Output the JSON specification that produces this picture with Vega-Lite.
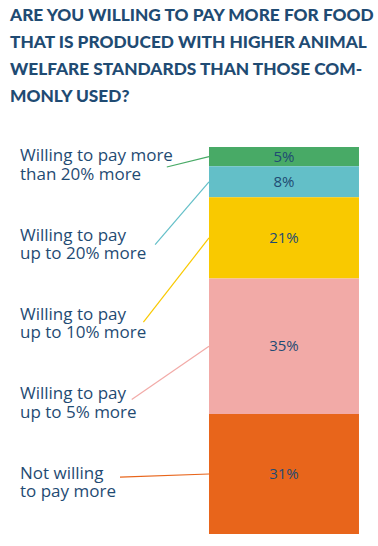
{
  "$schema": "https://vega.github.io/schema/vega-lite/v6.json",
  "width": 378,
  "height": 400,
  "autosize": {"type": "none"},
  "padding": {"top": 140, "left": 0, "right": 0, "bottom": 6},
  "background": "white",
  "config": {"view": {"stroke": null}},
  "title": {
    "text": ["ARE YOU WILLING TO PAY MORE FOR FOOD", "THAT IS PRODUCED WITH HIGHER ANIMAL", "WELFARE STANDARDS THAN THOSE COM-", "MONLY USED?"],
    "anchor": "start",
    "frame": "group",
    "font": "Lato",
    "fontSize": 17.3,
    "fontWeight": 900,
    "lineHeight": 27,
    "color": "#1f4b73",
    "dx": 10,
    "offset": 35
  },
  "data": {
    "values": [
      {"category": "Willing to pay more\nthan 20% more", "pct": 0.05, "order": 1},
      {"category": "Willing to pay\nup to 20% more", "pct": 0.08, "order": 2},
      {"category": "Willing to pay\nup to 10% more", "pct": 0.21, "order": 3},
      {"category": "Willing to pay\nup to 5% more", "pct": 0.35, "order": 4},
      {"category": "Not willing\nto pay more", "pct": 0.31, "order": 5}
    ]
  },
  "transform": [
    {"stack": "pct", "groupby": [], "sort": [{"field": "order", "order": "descending"}], "as": ["y0", "y1"]},
    {"calculate": "(datum.y0 + datum.y1) / 2", "as": "mid"},
    {"calculate": "0.9483 - 0.2003 * (datum.order - 1)", "as": "lineY"},
    {"calculate": "0.976 - 0.205 * (datum.order - 1)", "as": "labelY"},
    {"calculate": "44.13 - 3.095 * (datum.order - 1)", "as": "leaderX"}
  ],
  "encoding": {
    "color": {
      "field": "category",
      "type": "nominal",
      "scale": {
        "domain": ["Willing to pay more\nthan 20% more", "Willing to pay\nup to 20% more", "Willing to pay\nup to 10% more", "Willing to pay\nup to 5% more", "Not willing\nto pay more"],
        "range": ["#48aa66", "#63bfc8", "#f9c900", "#f2aaa7", "#e8651b"]
      },
      "legend": null
    }
  },
  "layer": [
    {
      "mark": {"type": "rect"},
      "encoding": {
        "x": {"datum": 55.29, "type": "quantitative", "scale": {"domain": [0, 100], "nice": false, "zero": false}, "axis": null},
        "x2": {"datum": 94.97},
        "y": {"field": "y0", "type": "quantitative", "scale": {"domain": [-0.0155, 1.0181], "nice": false, "zero": false}, "axis": null},
        "y2": {"field": "y1"}
      }
    },
    {
      "mark": {"type": "rule", "strokeWidth": 1.2},
      "encoding": {
        "x": {"field": "leaderX", "type": "quantitative"},
        "x2": {"datum": 55.29},
        "y": {"field": "lineY", "type": "quantitative"},
        "y2": {"field": "mid"}
      }
    },
    {
      "mark": {"type": "text", "font": "Open Sans", "fontSize": 15, "fontWeight": 500, "align": "center", "baseline": "middle"},
      "encoding": {
        "x": {"datum": 75.13, "type": "quantitative"},
        "y": {"field": "mid", "type": "quantitative"},
        "text": {"field": "pct", "type": "quantitative", "format": ".0%"},
        "color": {"value": "#1f4b73"}
      }
    },
    {
      "mark": {"type": "text", "font": "Open Sans", "fontSize": 17, "fontWeight": 500, "lineHeight": 18.5, "lineBreak": "\n", "align": "left", "baseline": "middle"},
      "encoding": {
        "x": {"datum": 5.29, "type": "quantitative"},
        "y": {"field": "labelY", "type": "quantitative"},
        "text": {"field": "category", "type": "nominal"},
        "color": {"value": "#1f4b73"}
      }
    }
  ]
}
